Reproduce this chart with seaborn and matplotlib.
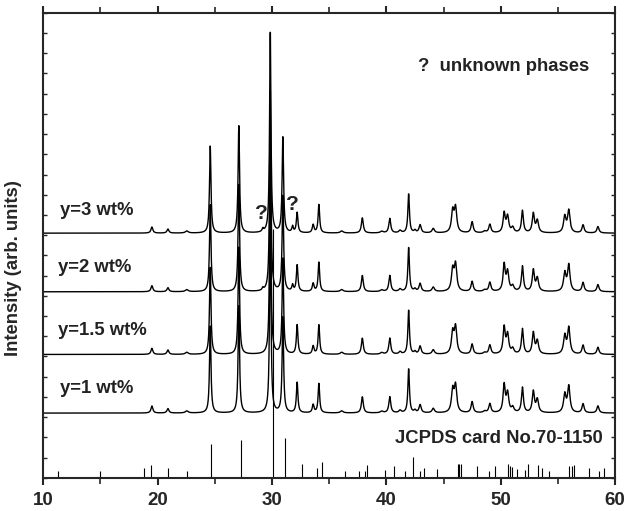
import numpy as np
import pandas as pd
import matplotlib
matplotlib.use("Agg")
import matplotlib.pyplot as plt
import seaborn as sns

# sample labels and vertical offsets of each pattern (arb. units)
samples = ["y=1 wt%", "y=1.5 wt%", "y=2 wt%", "y=3 wt%"]
offsets = [3.2, 6.1, 9.2, 12.1]

# peaks: 2theta, FWHM, height for y=1 / 1.5 / 2 / 3
peak_pos = [19.5, 20.9, 22.55, 24.6, 27.1, 29.2, 29.85, 30.95, 31.8, 32.2,
            33.6, 34.1, 36.1, 37.9, 39.6, 40.3, 41.2, 41.95, 42.5, 42.95,
            44.1, 45.8, 46.05, 47.5, 48.6, 49.05, 50.3, 50.6, 51.05, 51.9,
            52.85, 53.2, 55.6, 55.95, 57.2, 58.5]
peak_fwhm = [0.2, 0.2, 0.3, 0.15, 0.15, 0.15, 0.14, 0.15, 0.15, 0.16,
             0.18, 0.16, 0.3, 0.2, 0.3, 0.2, 0.25, 0.16, 0.2, 0.22,
             0.25, 0.25, 0.25, 0.22, 0.3, 0.22, 0.22, 0.25, 0.25, 0.2,
             0.22, 0.25, 0.25, 0.25, 0.22, 0.22]
h_y1 = [0.35, 0.22, 0.1, 4.3, 5.3, 0.0, 10.1, 4.8, 0.0, 1.5,
        0.4, 1.45, 0.1, 0.8, 0.08, 0.8, 0.12, 2.2, 0.12, 0.4,
        0.22, 1.1, 1.3, 0.55, 0.08, 0.45, 1.35, 0.95, 0.25, 1.25,
        1.05, 0.65, 0.9, 1.3, 0.45, 0.35]
h_y15 = [0.3, 0.22, 0.1, 4.3, 5.3, 0.0, 10.1, 4.8, 0.0, 1.45,
         0.4, 1.45, 0.1, 0.8, 0.08, 0.8, 0.12, 2.2, 0.12, 0.4,
         0.22, 1.05, 1.3, 0.5, 0.08, 0.45, 1.3, 0.95, 0.25, 1.25,
         1.05, 0.65, 0.9, 1.3, 0.45, 0.35]
h_y2 = [0.3, 0.2, 0.1, 4.3, 5.3, 0.12, 10.1, 4.8, 0.3, 1.3,
        0.4, 1.45, 0.1, 0.8, 0.08, 0.8, 0.12, 2.2, 0.12, 0.4,
        0.22, 1.05, 1.3, 0.5, 0.08, 0.45, 1.3, 0.95, 0.25, 1.25,
        1.05, 0.65, 0.9, 1.3, 0.45, 0.35]
h_y3 = [0.3, 0.2, 0.1, 4.3, 5.3, 0.15, 10.1, 4.8, 0.3, 1.0,
        0.4, 1.4, 0.1, 0.75, 0.08, 0.72, 0.12, 1.95, 0.12, 0.4,
        0.22, 1.05, 1.2, 0.55, 0.08, 0.42, 0.95, 0.8, 0.25, 1.1,
        0.95, 0.6, 0.8, 1.1, 0.4, 0.32]
heights = [h_y1, h_y15, h_y2, h_y3]

# JCPDS card No.70-1150 reference lines
ref_pos = [11.3, 15.0, 18.8, 19.4, 20.9, 22.6, 24.7, 27.3, 30.1, 31.1,
           32.6, 33.9, 34.4, 36.4, 37.65, 38.1, 38.3, 39.9, 40.7, 41.6,
           42.3, 42.9, 43.3, 44.4, 46.25, 46.35, 46.5, 47.9, 49.0, 49.5,
           50.65, 50.8, 50.95, 51.4, 52.15, 52.35, 53.3, 53.6, 54.2, 56.0,
           56.2, 56.4, 57.75, 58.55, 59.0]
ref_int = [0.35, 0.35, 0.5, 0.65, 0.5, 0.35, 1.65, 1.85, 12.3, 1.95,
           0.7, 0.5, 0.8, 0.35, 0.35, 0.35, 0.65, 0.4, 0.6, 0.35,
           1.05, 0.35, 0.5, 0.45, 0.7, 0.7, 0.7, 0.6, 0.35, 0.6,
           0.7, 0.6, 0.55, 0.45, 0.4, 0.7, 0.65, 0.5, 0.35, 0.6,
           0.6, 0.65, 0.5, 0.35, 0.5]

two_theta = np.arange(10, 60.001, 0.02)
frames = []
for name, off, h in zip(samples, offsets, heights):
    y = np.full_like(two_theta, off)
    for p, w, a in zip(peak_pos, peak_fwhm, h):
        y += a / (1 + ((two_theta - p) / (w / 2)) ** 2)
    frames.append(pd.DataFrame({"2theta": two_theta, "I": y, "sample": name}))
df = pd.concat(frames, ignore_index=True)

sns.set_style("ticks")
plt.rcParams["font.family"] = ["Liberation Sans", "DejaVu Sans"]
plt.rcParams["font.weight"] = "bold"

fig, ax = plt.subplots(figsize=(6.27, 5.11), dpi=100)
fig.subplots_adjust(left=0.069, right=0.981, top=0.975, bottom=0.065)

sns.lineplot(data=df, x="2theta", y="I", hue="sample", units="sample",
             estimator=None, palette=["black"] * 4, linewidth=1.0,
             legend=False, ax=ax, sort=False)
ax.vlines(ref_pos, 0, ref_int, color="black", linewidth=0.8)

ax.set_xlim(10, 60)
ax.set_ylim(0, 23)
ax.set_xticks(np.arange(10, 61, 10))
ax.set_xticks(np.arange(15, 60, 10), minor=True)
ax.set_yticks(np.arange(0, 23.5, 1))
ax.set_yticklabels([])
ax.tick_params(axis="x", which="major", direction="out", length=5, width=1.5,
               labelsize=13.5, pad=5, top=True)
ax.tick_params(axis="x", which="minor", direction="out", length=4, width=1.2,
               top=True)
ax.tick_params(axis="y", direction="in", length=3, width=1, right=True)
for lab in ax.get_xticklabels():
    lab.set_fontweight("bold")
for s in ax.spines.values():
    s.set_visible(True)
    s.set_linewidth(1.5)
ax.set_xlabel("")
ax.set_ylabel("Intensity (arb. units)", fontsize=13.3, fontweight="bold")
ax.yaxis.set_label_coords(-0.037, 0.45)

txt = dict(fontsize=13.3, fontweight="bold", color="#222222")
ax.text(11.5, 13.2, samples[3], va="center", **txt)
ax.text(11.3, 10.4, samples[2], va="center", **txt)
ax.text(11.3, 7.3, samples[1], va="center", **txt)
ax.text(11.5, 4.4, samples[0], va="center", **txt)
ax.text(42.8, 20.35, "?  unknown phases", va="center", **txt)
ax.text(58.95, 1.93, "JCPDS card No.70-1150", va="center", ha="right", **txt)
ax.text(29.05, 13.07, "?", va="center", ha="center", fontsize=15, fontweight="bold", color="#222222")
ax.text(31.75, 13.5, "?", va="center", ha="center", fontsize=15, fontweight="bold", color="#222222")

fig.savefig("out.png", dpi=100)
